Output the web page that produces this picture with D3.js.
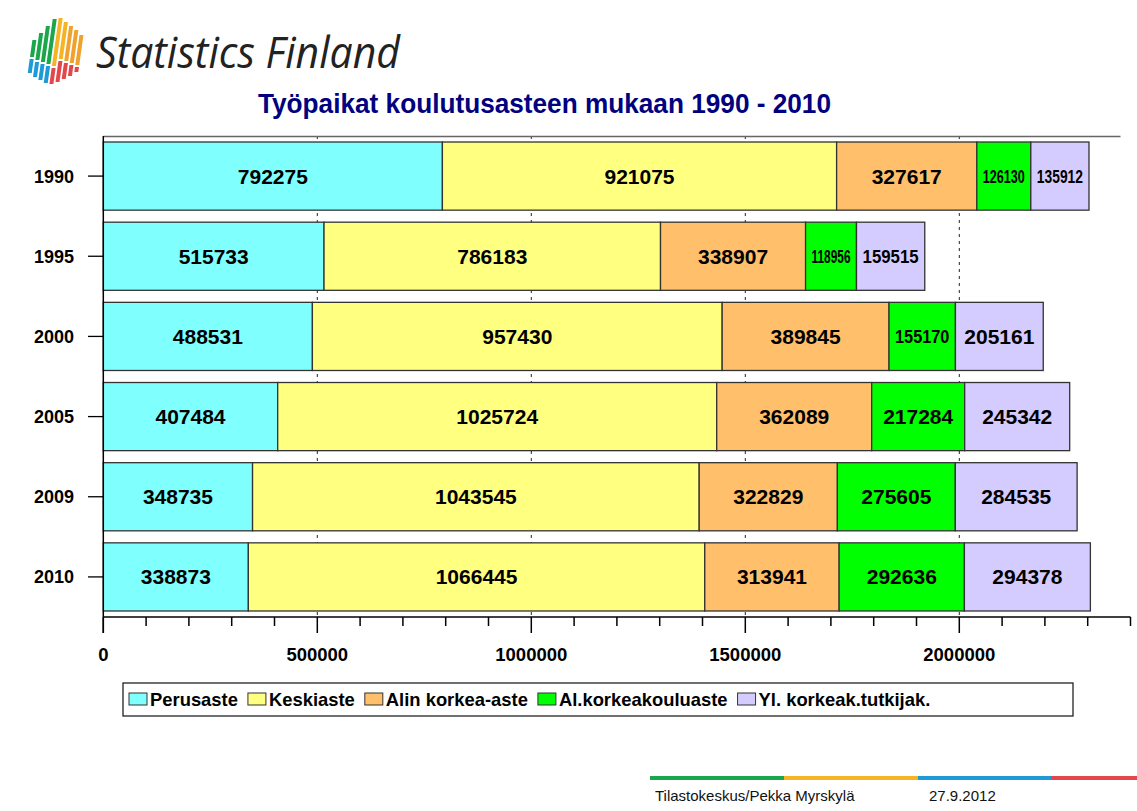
<!DOCTYPE html>
<html>
<head>
<meta charset="utf-8">
<script src="https://cdn.jsdelivr.net/npm/d3@7"></script>
<style>
  html, body { margin: 0; padding: 0; background: #fff; }
  svg { display: block; }
  text { font-family: "Liberation Sans", Arial, sans-serif; }
</style>
</head>
<body>
<script>
// ---- Data ----
const years = ["1990", "1995", "2000", "2005", "2009", "2010"];
const seriesNames = ["Perusaste", "Keskiaste", "Alin korkea-aste", "Al.korkeakouluaste", "Yl. korkeak.tutkijak."];
const perusaste     = [792275, 515733, 488531, 407484, 348735, 338873];
const keskiaste     = [921075, 786183, 957430, 1025724, 1043545, 1066445];
const alinKorkea    = [327617, 338907, 389845, 362089, 322829, 313941];
const alKorkeakoulu = [126130, 118956, 155170, 217284, 275605, 292636];
const ylKorkeak     = [135912, 159515, 205161, 245342, 284535, 294378];
const xTickValues   = [0, 500000, 1000000, 1500000, 2000000];
const titleText = "Työpaikat koulutusasteen mukaan 1990 - 2010";
const footerSource = "Tilastokeskus/Pekka Myrskylä";
const footerDate = "27.9.2012";

const colors = ["#80ffff", "#ffff80", "#ffbf6b", "#00ff00", "#d4ccff"];
const seriesValues = [perusaste, keskiaste, alinKorkea, alKorkeakoulu, ylKorkeak];

const table = years.map((y, i) => {
  const row = { year: y };
  seriesNames.forEach((s, j) => row[s] = seriesValues[j][i]);
  return row;
});

const W = 1137, H = 811;
const svg = d3.select("body").append("svg").attr("width", W).attr("height", H);
svg.append("rect").attr("width", W).attr("height", H).attr("fill", "#fff");

// ---- Logo (decoration) ----
const logo = svg.append("g").attr("transform", "translate(4,0) skewX(-8) translate(-4,0)");
const logoCols = [
  { top: 40, mid: 57, bot: 73, c1: "#1aa64a", c2: "#1e9ad6" },
  { top: 33, mid: 60, bot: 77, c1: "#1aa64a", c2: "#1e9ad6" },
  { top: 26, mid: 62, bot: 80, c1: "#1aa64a", c2: "#1e9ad6" },
  { top: 19, mid: 64, bot: 83, c1: "#1aa64a", c2: "#1e9ad6" },
  { top: 18, mid: 66, bot: 84, c1: "#f6b324", c2: "#e3474a" },
  { top: 22, mid: 59, bot: 82, c1: "#f6b324", c2: "#e3474a" },
  { top: 26, mid: 61, bot: 79, c1: "#f0a22e", c2: "#e3474a" },
  { top: 30, mid: 63, bot: 76, c1: "#f0a22e", c2: "#e3474a" },
  { top: 35, mid: 65, bot: 72, c1: "#f0a22e", c2: "#e3474a" }
];
logoCols.forEach((c, i) => {
  const xx = 38 + i * 5.8;
  logo.append("rect").attr("x", xx).attr("y", c.top).attr("width", 4).attr("height", c.mid - c.top).attr("fill", c.c1);
  logo.append("rect").attr("x", xx).attr("y", c.mid + 2).attr("width", 4).attr("height", c.bot - c.mid - 2).attr("fill", c.c2);
});
svg.append("text")
  .attr("x", 96).attr("y", 68)
  .style("font-family", "'Open Sans', 'Noto Sans', sans-serif")
  .attr("font-style", "italic")
  .attr("font-size", 43)
  .attr("fill", "#222")
  .attr("textLength", 304).attr("lengthAdjust", "spacingAndGlyphs")
  .text("Statistics Finland");

// ---- Title ----
svg.append("text")
  .attr("x", 258).attr("y", 113)
  .attr("font-size", 28).attr("font-weight", "bold")
  .attr("fill", "#000080")
  .attr("textLength", 573).attr("lengthAdjust", "spacingAndGlyphs")
  .text(titleText);

// ---- Scales ----
const plotTop = 136, plotBottom = 617, plotLeft = 103.3, plotRight = 1130.5;
const x = d3.scaleLinear().domain([0, 2400000]).range([plotLeft, plotRight]);
const y = d3.scaleBand().domain(years).range([plotTop, plotBottom])
  .paddingInner(0.15).paddingOuter(0.075);

// gridlines (dashed)
svg.append("g").selectAll("line").data(xTickValues.filter(v => v > 0)).join("line")
  .attr("x1", d => x(d)).attr("x2", d => x(d))
  .attr("y1", plotTop).attr("y2", plotBottom)
  .attr("stroke", "#222").attr("stroke-width", 1).attr("stroke-dasharray", "3,4");

// plot frame top
svg.append("line").attr("x1", plotLeft).attr("x2", plotRight - 10).attr("y1", plotTop + 0.5).attr("y2", plotTop + 0.5)
  .attr("stroke", "#666").attr("stroke-width", 1.5);

// ---- Bars ----
const stacked = d3.stack().keys(seriesNames)(table);

const barG = svg.append("g");
stacked.forEach((layer, j) => {
  barG.append("g").selectAll("rect").data(layer).join("rect")
    .attr("x", d => x(d[0]))
    .attr("y", d => y(d.data.year))
    .attr("width", d => x(d[1]) - x(d[0]))
    .attr("height", y.bandwidth())
    .attr("fill", colors[j])
    .attr("stroke", "#333").attr("stroke-width", 1.3);
});

// labels (horizontally squeezed when the segment is narrow)
const labelG = svg.append("g");
stacked.forEach((layer, j) => {
  layer.forEach(d => {
    const segW = x(d[1]) - x(d[0]);
    const v = d.data[layer.key];
    const cx = (x(d[0]) + x(d[1])) / 2;
    const cy = y(d.data.year) + y.bandwidth() / 2;
    const g = labelG.append("g").attr("transform", `translate(${cx},${cy})`);
    const t = g.append("text")
      .attr("x", 0).attr("y", 7.5)
      .attr("text-anchor", "middle")
      .attr("font-size", 21).attr("font-weight", "bold")
      .attr("fill", "#000")
      .text(String(v));
    const natural = t.node().getComputedTextLength();
    if (natural > segW - 8) {
      t.attr("font-size", 19).attr("y", 6.8);
      const n2 = t.node().getComputedTextLength();
      const s = (segW - 12) / n2;
      g.attr("transform", `translate(${cx},${cy}) scale(${s},1)`);
    }
  });
});

// ---- X axis ----
const axisG = svg.append("g");
axisG.append("line").attr("x1", plotLeft).attr("x2", plotRight).attr("y1", plotBottom).attr("y2", plotBottom)
  .attr("stroke", "#000").attr("stroke-width", 1.5);
const minorTicks = d3.range(0, 2400001, 100000);
axisG.selectAll("line.minor").data(minorTicks).join("line")
  .attr("class", "minor")
  .attr("x1", d => x(d)).attr("x2", d => x(d))
  .attr("y1", plotBottom).attr("y2", d => (d % 500000 === 0 ? plotBottom + 16 : plotBottom + 9))
  .attr("stroke", "#000").attr("stroke-width", 1.5);
axisG.selectAll("text").data(xTickValues).join("text")
  .attr("x", d => x(d)).attr("y", 661)
  .attr("text-anchor", "middle")
  .attr("font-size", 18.5).attr("font-weight", "bold")
  .text(d => String(d));

// ---- Y axis ----
const yAxisG = svg.append("g");
yAxisG.append("line").attr("x1", plotLeft).attr("x2", plotLeft).attr("y1", plotTop).attr("y2", plotBottom + 16)
  .attr("stroke", "#000").attr("stroke-width", 1.5);
yAxisG.selectAll("line.tick").data(years).join("line")
  .attr("class", "tick")
  .attr("x1", 88).attr("x2", plotLeft)
  .attr("y1", d => y(d) + y.bandwidth() / 2).attr("y2", d => y(d) + y.bandwidth() / 2)
  .attr("stroke", "#000").attr("stroke-width", 1.3);
yAxisG.selectAll("text").data(years).join("text")
  .attr("x", 74).attr("y", d => y(d) + y.bandwidth() / 2 + 6.5)
  .attr("text-anchor", "end")
  .attr("font-size", 18).attr("font-weight", "bold")
  .text(d => d);

// ---- Legend ----
const legG = svg.append("g");
legG.append("rect").attr("x", 123).attr("y", 683).attr("width", 950).attr("height", 33)
  .attr("fill", "#fff").attr("stroke", "#222").attr("stroke-width", 1.3);
let lx = 129;
seriesNames.forEach((s, j) => {
  legG.append("rect").attr("x", lx).attr("y", 693).attr("width", 18).attr("height", 12)
    .attr("fill", colors[j]).attr("stroke", "#333").attr("stroke-width", 1);
  const t = legG.append("text").attr("x", lx + 21).attr("y", 706)
    .attr("font-size", 18.4).attr("font-weight", "bold").text(s);
  lx += 21 + t.node().getComputedTextLength() + 10;
});

// ---- Footer ----
const footColors = ["#1aa64a", "#f6b324", "#1e9ad6", "#e3474a"];
const footEdges = [650, 784, 918, 1051, 1137];
footColors.forEach((c, i) => {
  svg.append("rect").attr("x", footEdges[i]).attr("y", 776).attr("width", footEdges[i + 1] - footEdges[i]).attr("height", 4).attr("fill", c);
});
svg.append("text").attr("x", 655).attr("y", 801).attr("font-size", 15).attr("fill", "#111").text(footerSource);
svg.append("text").attr("x", 929).attr("y", 801).attr("font-size", 15).attr("fill", "#111").text(footerDate);
</script>
</body>
</html>
